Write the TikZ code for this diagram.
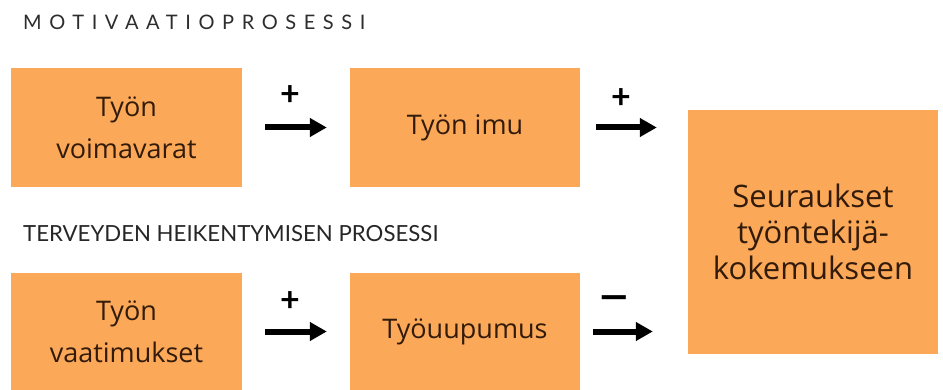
\documentclass[tikz,border=0pt]{standalone}
\usepackage{fontspec}
\setmainfont{Lato}
\newfontfamily\spacedfont[LetterSpace=38]{Lato}
\newfontfamily\boxfont{Open Sans}
\usetikzlibrary{arrows.meta}
\definecolor{boxfill}{RGB}{251,168,88}
\definecolor{boxtext}{RGB}{50,27,10}
\definecolor{headtext}{RGB}{45,45,45}
\begin{document}
\begin{tikzpicture}[x=1pt,y=-1pt,
  box/.style={fill=boxfill, draw=none, inner sep=0pt, align=center, text=boxtext,
    font=\boxfont\fontsize{27}{42}\selectfont},
  flow/.style={line width=6pt, -{Triangle[length=17pt,width=18pt]}},
  sign/.style={font=\bfseries\fontsize{34}{34}\selectfont, inner sep=0pt},
  heading/.style={anchor=west, inner sep=0pt, text=headtext}]
\useasboundingbox (0,0) rectangle (943,390);

% headings
\node[heading, font=\spacedfont\fontsize{20}{20}\selectfont] (h1) at (23,22) {MOTIVAATIOPROSESSI};
\node[heading, text=black!85, font=\fontsize{22.2}{22}\selectfont] (h2) at (23,234) {TERVEYDEN HEIKENTYMISEN PROSESSI};

% boxes
\node[box, minimum width=231pt, minimum height=119pt] (res) at (126.5,127.5) {Työn\\voimavarat};
\node[box, minimum width=230pt, minimum height=119pt] (eng) at (465,127.5) {Työn imu};
\node[box, minimum width=231pt, minimum height=117pt] (dem) at (126.5,331.5) {Työn\\vaatimukset};
\node[box, minimum width=230pt, minimum height=117pt] (burn) at (465,331.5) {Työuupumus};
\node[box, minimum width=250pt, minimum height=244pt, font=\boxfont\fontsize{31}{36}\selectfont] (out) at (813,232) {Seuraukset\\työntekijä-\\kokemukseen};

% connectors
\draw[flow, shorten <=23pt, shorten >=23pt] (res.east) -- (eng.west);
\draw[flow, shorten <=16pt, shorten >=31pt] (eng.east) -- (eng.east -| out.west);
\draw[flow, shorten <=23pt, shorten >=23pt] (dem.east) -- (burn.west);
\draw[flow, shorten <=13pt, shorten >=35pt] (burn.east) -- (burn.east -| out.west);

% signs
\node[sign] (s1) at (290,96) {+};
\node[sign] (s2) at (621,99) {+};
\node[sign] (s3) at (290,302) {+};
\node[sign] (s4) at (614,304) {\scalebox{1.6}[1.3]{−}};
\end{tikzpicture}
\end{document}
